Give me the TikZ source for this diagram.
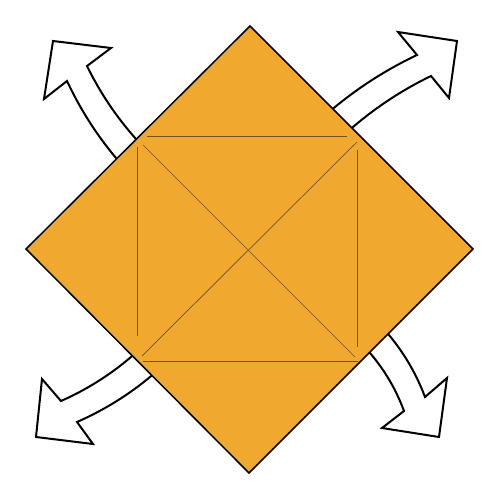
\documentclass[tikz,border=0pt]{standalone}
\definecolor{paper}{HTML}{F0A92E}
\definecolor{crease}{HTML}{6B5332}
\tikzset{
  arrowshape/.style={fill=white, draw=black, line width=2pt, line join=miter},
  diamondshape/.style={fill=paper, draw=black, line width=1.5pt, line join=miter},
  creaseline/.style={draw=crease, line width=0.7pt}
}
\begin{document}
\begin{tikzpicture}[x=1pt,y=-1pt]
\useasboundingbox (0,0) rectangle (500,500);
% arrows (behind the diamond)
\draw[arrowshape] (135.3,181) -- (116,158) .. controls (96.3,134.5) and (80.0,108.8) .. (67,81) -- (44,99) -- (53,41) -- (111,48) -- (87,66) .. controls (100.0,92.6) and (116.3,116.9) .. (136,139) -- (156,161.4) -- cycle;
\draw[arrowshape] (311.8,126.1) -- (335,107) .. controls (360.2,86.3) and (387.5,69.0) .. (417,55) -- (398,32) -- (457,41) -- (449,98) -- (431,76) .. controls (402.8,89.65) and (376.8,106.65) .. (353,127) -- (330.2,146.5) -- cycle;
\draw[arrowshape] (153.8,337.5) -- (131,357) .. controls (109.8,375.1) and (86.5,389.7) .. (61,401) -- (42,379) -- (36,437) -- (93,444) -- (77,422) .. controls (103.4,410.4) and (127.8,395.4) .. (150,377) -- (173.1,357.8) -- cycle;
\draw[arrowshape] (350.5,330.2) -- (370,353) .. controls (384.8,370.3) and (396.1,389.6) .. (404,411) -- (382,428) -- (439,437) -- (447,378) -- (425,397) .. controls (416.5,374.3) and (404.5,353.7) .. (389,335) -- (369.9,311.9) -- cycle;
% diamond
\coordinate (T) at (250,26);
\coordinate (R) at (473,249);
\coordinate (B) at (249,473);
\coordinate (L) at (26,249);
\draw[diamondshape] (T) -- (R) -- (B) -- (L) -- cycle;
% crease lines
\draw[creaseline] (147,136) -- (347,136);
\draw[creaseline] (137,147) -- (137,336);
\draw[creaseline] (357,150) -- (357,347);
\draw[creaseline] (143,361) -- (358,361);
\draw[creaseline] (143,145) -- (355,357);
\draw[creaseline] (357,142) -- (142,356);
\end{tikzpicture}
\end{document}
